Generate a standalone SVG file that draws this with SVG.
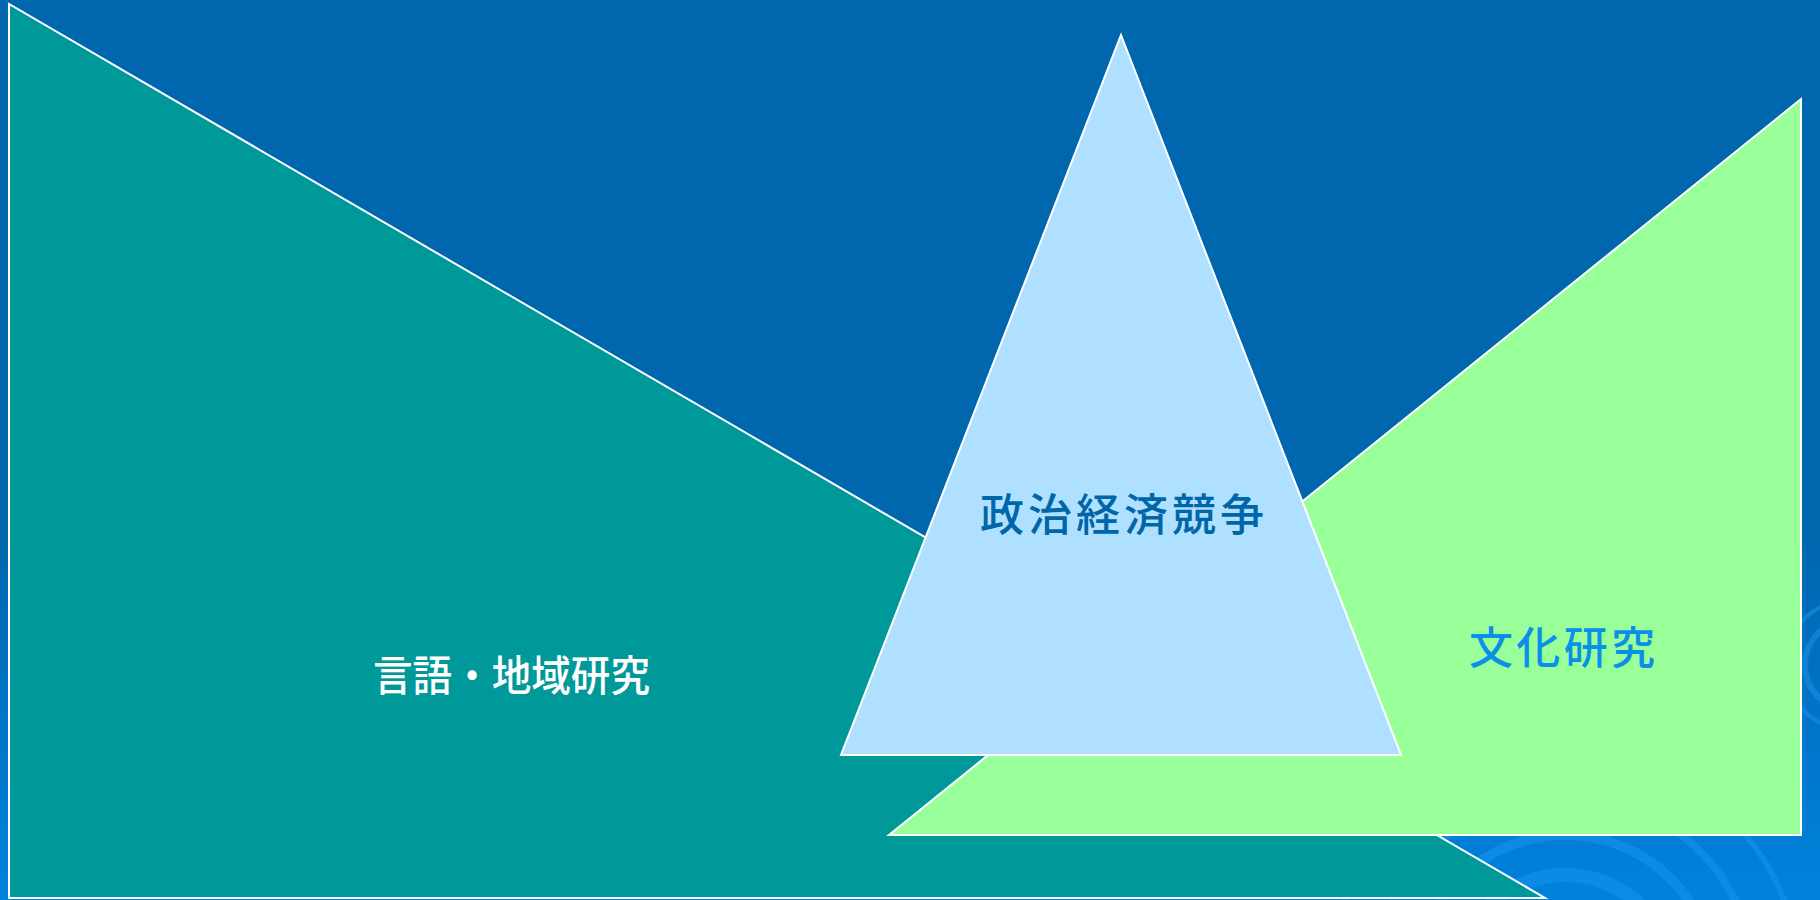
<svg xmlns="http://www.w3.org/2000/svg" width="1820" height="900" viewBox="0 0 1820 900">
  <defs>
    <linearGradient id="bg" x1="0" y1="0" x2="0" y2="1">
      <stop offset="0" stop-color="#0067AE"/>
      <stop offset="0.6" stop-color="#0067AE"/>
      <stop offset="0.85" stop-color="#0078CE"/>
      <stop offset="1" stop-color="#0082DC"/>
    </linearGradient>
    <style>
      .shape { stroke: #FFFFFF; stroke-width: 2; stroke-linejoin: miter; }
      .label { font-family: "Noto Sans CJK JP", "Noto Sans CJK SC", sans-serif; font-size: 44px; font-weight: 500; }
      .mid { text-anchor: middle; }
      .swirl { fill: none; stroke: #1A96EE; stroke-opacity: 0.5; }
    </style>
  </defs>
  <rect x="0" y="0" width="1820" height="900" fill="url(#bg)"/>
  <g id="background-swirls">
    <circle class="swirl" cx="1565" cy="985" r="110" stroke-width="14"/>
    <circle class="swirl" cx="1565" cy="985" r="150" stroke-width="10"/>
    <circle class="swirl" cx="1565" cy="985" r="190" stroke-width="8"/>
    <circle class="swirl" cx="1565" cy="985" r="235" stroke-width="6"/>
    <circle class="swirl" cx="1850" cy="665" r="25" stroke-width="8"/>
    <circle class="swirl" cx="1850" cy="665" r="45" stroke-width="6"/>
    <circle class="swirl" cx="1850" cy="665" r="65" stroke-width="4"/>
  </g>
  <g id="node-language-area">
    <polygon class="shape" points="9,4 9,898 1545,898" fill="#009999"/>
    <text class="label" x="373" y="691" fill="#FFFFFF" style="font-size:42px" textLength="277" lengthAdjust="spacingAndGlyphs">言語・地域研究</text>
  </g>
  <g id="node-culture">
    <polygon class="shape" points="1801,99 1801,835 889,835" fill="#99FF99"/>
    <text class="label mid" x="1562" y="664" fill="#0A90E8" textLength="186">文化研究</text>
  </g>
  <g id="node-politics-economy">
    <polygon class="shape" points="1121,35 1401,755 841,755" fill="#B0E0FF"/>
    <text class="label mid" x="1122" y="531" fill="#0066AA" textLength="284">政治経済競争</text>
  </g>
  <g id="connectors"/>
</svg>
